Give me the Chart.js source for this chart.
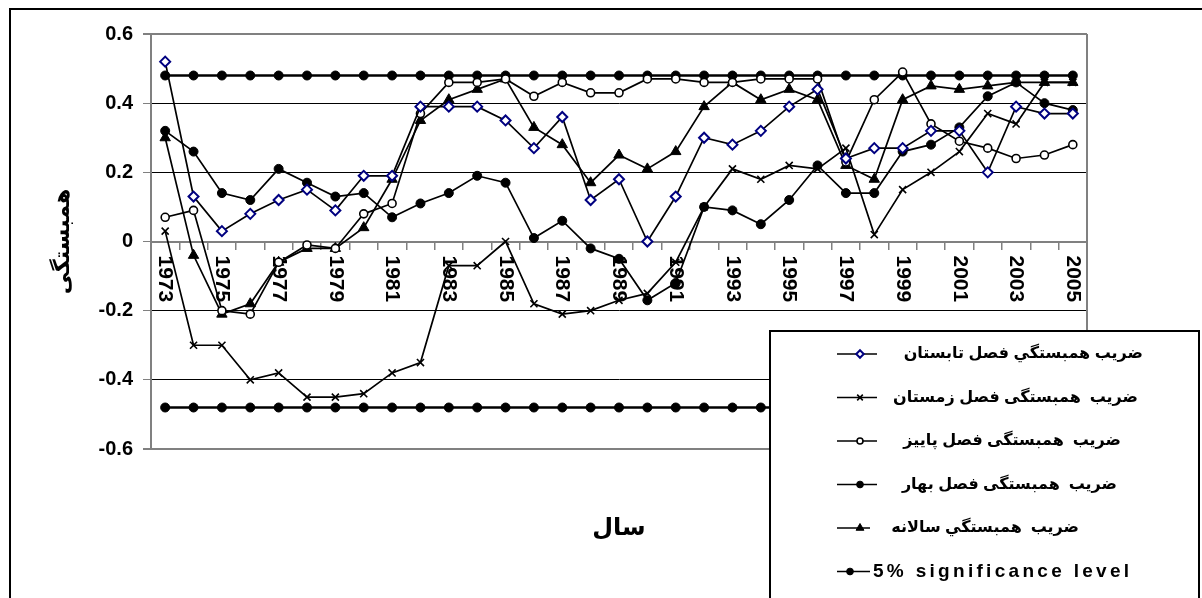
<!DOCTYPE html>
<html>
<head>
<meta charset="utf-8">
<script src="https://cdn.jsdelivr.net/npm/chart.js@4.4.1/dist/chart.umd.min.js"></script>
<style>
  html, body { margin: 0; padding: 0; background: #fff; overflow: hidden; }
  #wrap { width: 1202px; height: 598px; position: relative; }
  canvas { display: block; }
</style>
</head>
<body>
<div id="wrap"><canvas id="chart" width="1202" height="598"></canvas></div>
<script>
// Years on the category axis
const years = ['1973','1974','1975','1976','1977','1978','1979','1980','1981','1982','1983',
               '1984','1985','1986','1987','1988','1989','1990','1991','1992','1993','1994',
               '1995','1996','1997','1998','1999','2000','2001','2002','2003','2004','2005'];

// Correlation coefficients per season
const summer = [0.52,0.13,0.03,0.08,0.12,0.15,0.09,0.19,0.19,0.39,0.39,0.39,0.35,0.27,0.36,0.12,0.18,
                0.00,0.13,0.30,0.28,0.32,0.39,0.44,0.24,0.27,0.27,0.32,0.32,0.20,0.39,0.37,0.37];
const winter = [0.03,-0.30,-0.30,-0.40,-0.38,-0.45,-0.45,-0.44,-0.38,-0.35,-0.07,-0.07,0.00,-0.18,-0.21,-0.20,-0.17,
                -0.15,-0.06,0.10,0.21,0.18,0.22,0.21,0.27,0.02,0.15,0.20,0.26,0.37,0.34,0.46,0.46];
const autumn = [0.07,0.09,-0.20,-0.21,-0.06,-0.01,-0.02,0.08,0.11,0.37,0.46,0.46,0.47,0.42,0.46,0.43,0.43,
                0.47,0.47,0.46,0.46,0.47,0.47,0.47,0.23,0.41,0.49,0.34,0.29,0.27,0.24,0.25,0.28];
const spring = [0.32,0.26,0.14,0.12,0.21,0.17,0.13,0.14,0.07,0.11,0.14,0.19,0.17,0.01,0.06,-0.02,-0.05,
                -0.17,-0.12,0.10,0.09,0.05,0.12,0.22,0.14,0.14,0.26,0.28,0.33,0.42,0.46,0.40,0.38];
const annual = [0.30,-0.04,-0.21,-0.18,-0.06,-0.02,-0.02,0.04,0.18,0.35,0.41,0.44,0.47,0.33,0.28,0.17,0.25,
                0.21,0.26,0.39,0.46,0.41,0.44,0.41,0.22,0.18,0.41,0.45,0.44,0.45,0.46,0.46,0.46];

// 5% significance bounds
const sigUpper = years.map(() => 0.48);
const sigLower = years.map(() => -0.48);

// Series names and axis titles
const seriesNames = [
  'ضريب همبستگي فصل تابستان',
  'ضريب  همبستگی فصل زمستان',
  'ضريب  همبستگی فصل پاييز',
  'ضريب  همبستگی فصل بهار',
  'ضريب  همبستگي سالانه',
  '5% significance level'
];
const yTitle = 'همبستگی';
const xTitle = 'سال';
const yTicks = { min: -0.6, max: 0.6, step: 0.2 };

const FONT = '"Liberation Sans", "DejaVu Sans", Arial, sans-serif';

// Per-series marker styling
const markers = [
  { style: 'rectRot',  radius: 5,   fill: '#ffffff', stroke: '#000080', bw: 2 },
  { style: 'crossRot', radius: 5,   fill: '#000000', stroke: '#000000', bw: 1.6 },
  { style: 'circle',   radius: 4,   fill: '#ffffff', stroke: '#000000', bw: 1.6 },
  { style: 'circle',   radius: 4.5, fill: '#000000', stroke: '#000000', bw: 1 },
  { style: 'triangle', radius: 6,   fill: '#000000', stroke: '#000000', bw: 1 },
  { style: 'circle',   radius: 4.5, fill: '#000000', stroke: '#000000', bw: 1 }
];

function lineSet(label, data, m, width, hidden) {
  return {
    label, data,
    borderColor: '#000000',
    borderWidth: width,
    tension: 0,
    fill: false,
    pointStyle: m.style,
    pointRadius: m.radius,
    pointHoverRadius: m.radius,
    pointBackgroundColor: m.fill,
    pointBorderColor: m.stroke,
    pointBorderWidth: m.bw,
    inLegend: !hidden
  };
}

const datasets = [
  lineSet(seriesNames[0], summer, markers[0], 1.7),
  lineSet(seriesNames[1], winter, markers[1], 1.7),
  lineSet(seriesNames[2], autumn, markers[2], 1.7),
  lineSet(seriesNames[3], spring, markers[3], 1.7),
  lineSet(seriesNames[4], annual, markers[4], 1.7),
  lineSet(seriesNames[5], sigUpper, markers[5], 2.5),
  lineSet(seriesNames[5], sigLower, markers[5], 2.5, true)
];

// Small marker painter for the legend samples
function paintMarker(ctx, m, x, y, scale) {
  const r = m.radius * scale;
  ctx.save();
  ctx.lineWidth = m.bw;
  ctx.fillStyle = m.fill;
  ctx.strokeStyle = m.stroke;
  ctx.beginPath();
  if (m.style === 'rectRot') {
    ctx.moveTo(x, y - r); ctx.lineTo(x + r, y); ctx.lineTo(x, y + r); ctx.lineTo(x - r, y); ctx.closePath();
    ctx.fill(); ctx.stroke();
  } else if (m.style === 'crossRot') {
    const d = r * 0.75;
    ctx.moveTo(x - d, y - d); ctx.lineTo(x + d, y + d);
    ctx.moveTo(x + d, y - d); ctx.lineTo(x - d, y + d);
    ctx.stroke();
  } else if (m.style === 'circle') {
    ctx.arc(x, y, r, 0, Math.PI * 2);
    ctx.fill(); ctx.stroke();
  } else if (m.style === 'triangle') {
    ctx.moveTo(x, y - r); ctx.lineTo(x + r * 0.87, y + r * 0.5); ctx.lineTo(x - r * 0.87, y + r * 0.5); ctx.closePath();
    ctx.fill(); ctx.stroke();
  }
  ctx.restore();
}

// White page with the outer frame
const framePlugin = {
  id: 'frame',
  beforeDraw(chart) {
    const { ctx, width, height } = chart;
    ctx.save();
    ctx.fillStyle = '#ffffff';
    ctx.fillRect(0, 0, width, height);
    ctx.strokeStyle = '#000000';
    ctx.lineWidth = 2;
    ctx.strokeRect(10, 9, width + 20, height + 20);
    ctx.restore();
  }
};

// Plot-area right edge, rotated year labels and the x title
const axisDecor = {
  id: 'axisDecor',
  beforeDatasetsDraw(chart) {
    const { ctx, chartArea: a, scales: { x, y } } = chart;
    ctx.save();
    ctx.strokeStyle = '#808080';
    ctx.lineWidth = 2;
    ctx.beginPath();
    ctx.moveTo(a.right, a.top);
    ctx.lineTo(a.right, a.bottom);
    ctx.stroke();

    const y0 = y.getPixelForValue(0);
    ctx.fillStyle = '#000000';
    ctx.font = 'bold 21px ' + FONT;
    ctx.textAlign = 'left';
    ctx.textBaseline = 'middle';
    for (let i = 0; i < years.length; i += 2) {
      const px = x.getPixelForValue(i);
      ctx.save();
      ctx.translate(px, y0 + 14);
      ctx.rotate(Math.PI / 2);
      ctx.fillText(years[i], 0, 0);
      ctx.restore();
    }
    ctx.restore();
  },
  afterDraw(chart) {
    const { ctx, chartArea: a } = chart;
    ctx.save();
    ctx.fillStyle = '#000000';
    ctx.font = 'bold 24px "DejaVu Sans", serif';
    ctx.textAlign = 'center';
    ctx.textBaseline = 'middle';
    ctx.fillText(xTitle, (a.left + a.right) / 2, a.bottom + 80);
    ctx.restore();
  }
};

// Boxed legend drawn over the lower-right corner
const boxLegend = {
  id: 'boxLegend',
  afterDraw(chart) {
    const ctx = chart.ctx;
    const box = { x: 770, y: 331, w: 429, h: 300 };
    ctx.save();
    ctx.fillStyle = '#ffffff';
    ctx.fillRect(box.x, box.y, box.w, box.h);
    ctx.strokeStyle = '#000000';
    ctx.lineWidth = 2;
    ctx.strokeRect(box.x, box.y, box.w, box.h);

    const rowY0 = box.y + 23, rowStep = 43.5;
    const sampleL = box.x + 67, sampleR = box.x + 107;
    const textRight = [1143, 1138, 1121, 1117, 1079];
    const items = chart.data.datasets.filter(d => d.inLegend);
    items.forEach((ds, i) => {
      const cy = rowY0 + i * rowStep;
      const m = markers[i];
      const sr = i === 4 || i === 5 ? sampleR - 7 : sampleR;
      ctx.strokeStyle = '#000000';
      ctx.lineWidth = 1.6;
      ctx.beginPath();
      ctx.moveTo(sampleL, cy);
      ctx.lineTo(sr, cy);
      ctx.stroke();
      const mx = i === 5 ? sampleL + 13 : sampleL + 23;
      paintMarker(ctx, m, mx, cy, 0.75);

      ctx.fillStyle = '#000000';
      ctx.textBaseline = 'middle';
      if (i < 5) {
        ctx.font = 'bold 16px ' + FONT;
        ctx.textAlign = 'right';
        ctx.fillText(ds.label, textRight[i], cy);
      } else {
        ctx.font = 'bold 19px ' + FONT;
        ctx.textAlign = 'left';
        ctx.letterSpacing = '3.3px';
        ctx.fillText(ds.label, sr + 3, cy);
        ctx.letterSpacing = '0px';
      }
    });
    ctx.restore();
  }
};

const near = (a, b) => Math.abs(a - b) < 1e-6;

new Chart(document.getElementById('chart'), {
  type: 'line',
  data: { labels: years, datasets },
  plugins: [framePlugin, axisDecor, boxLegend],
  options: {
    responsive: false,
    animation: false,
    events: [],
    layout: { padding: { left: 10, top: 34, right: 115, bottom: 149 } },
    plugins: { legend: { display: false }, tooltip: { enabled: false }, title: { display: false } },
    scales: {
      x: {
        type: 'category',
        position: { y: 0 },
        offset: true,
        grid: { offset: true, drawOnChartArea: false, drawTicks: true, tickLength: 7, color: '#808080', lineWidth: 1.5 },
        border: { display: true, color: '#808080', width: 2 },
        ticks: { display: false }
      },
      y: {
        min: yTicks.min,
        max: yTicks.max,
        afterFit(scale) { scale.width = 141; },
        ticks: {
          stepSize: yTicks.step,
          padding: 10,
          color: '#000000',
          font: { family: FONT, size: 20, weight: 'bold' }
        },
        grid: {
          tickLength: 8,
          tickColor: '#808080',
          color: (c) => {
            const v = c.tick ? c.tick.value : 1;
            if (near(v, 0)) return 'rgba(0,0,0,0)';
            if (near(Math.abs(v), 0.6)) return '#808080';
            return '#000000';
          },
          lineWidth: (c) => {
            const v = c.tick ? c.tick.value : 1;
            return near(Math.abs(v), 0.6) ? 2 : 1;
          }
        },
        border: { display: true, color: '#808080', width: 2 },
        title: {
          display: true,
          text: yTitle,
          color: '#000000',
          font: { family: '"DejaVu Sans", serif', size: 22, weight: 'bold' },
          padding: { top: 40, bottom: 0 }
        }
      }
    }
  }
});
</script>
</body>
</html>
